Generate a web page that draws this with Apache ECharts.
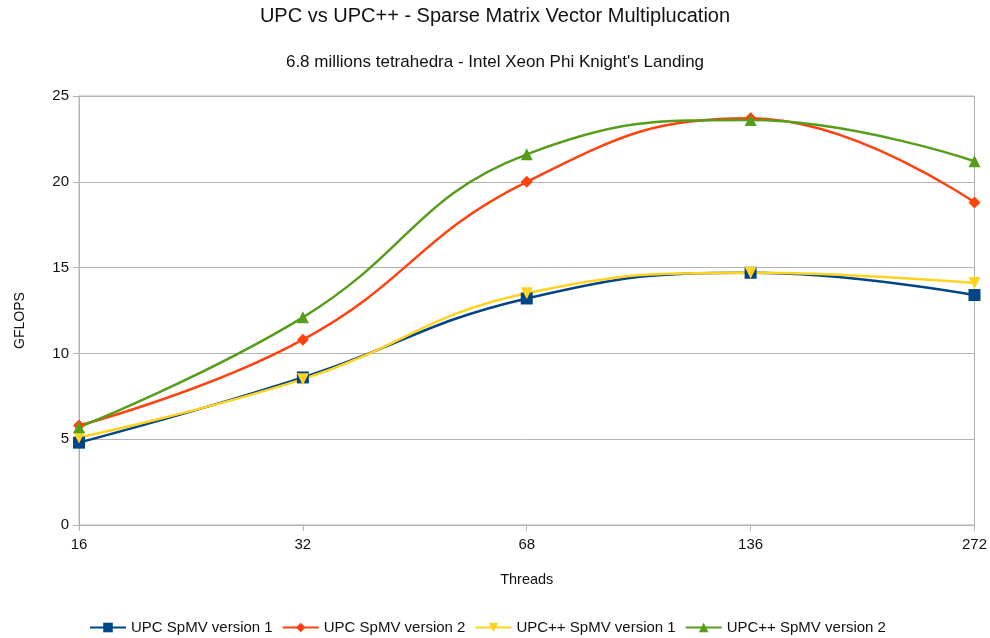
<!DOCTYPE html>
<html>
<head>
<meta charset="utf-8">
<script src="https://cdn.jsdelivr.net/npm/echarts@6/dist/echarts.min.js"></script>
<style>
  html, body { margin: 0; padding: 0; background: #fff; }
  #chart { width: 990px; height: 638px; }
</style>
</head>
<body>
<div id="chart"></div>
<script>
var threads = ['16', '32', '68', '136', '272'];
var upcV1 = [4.8, 8.6, 13.2, 14.7, 13.4];
var upcV2 = [5.8, 10.8, 20.0, 23.7, 18.8];
var upcppV1 = [5.1, 8.5, 13.5, 14.7, 14.1];
var upcppV2 = [5.7, 12.1, 21.6, 23.6, 21.2];

var dom = document.getElementById('chart');
var myChart = echarts.init(dom, null, { renderer: 'canvas' });

var font = 'Liberation Sans';

function line(name, data, color, symbol, rotate) {
  return {
    name: name,
    type: 'line',
    data: data,
    smooth: 0.45,
    symbol: symbol,
    symbolSize: 12,
    symbolRotate: rotate || 0,
    lineStyle: { color: color, width: 2.5 },
    itemStyle: { color: color },
    emphasis: { disabled: true }
  };
}

var option = {
  backgroundColor: '#fff',
  animation: false,
  textStyle: { fontFamily: font },
  title: [
    {
      text: 'UPC vs UPC++ - Sparse Matrix Vector Multiplucation',
      left: 'center',
      top: 1,
      textStyle: { fontSize: 20, fontWeight: 'normal', color: '#111', fontFamily: font }
    },
    {
      text: '6.8 millions tetrahedra - Intel Xeon Phi Knight\'s Landing',
      left: 'center',
      top: 49,
      textStyle: { fontSize: 17, fontWeight: 'normal', color: '#111', fontFamily: font }
    }
  ],
  legend: {
    bottom: -2,
    left: 84,
    itemWidth: 36,
    itemHeight: 12,
    itemGap: 9,
    textStyle: { fontSize: 15, color: '#111', fontFamily: font },
    data: ['UPC SpMV version 1', 'UPC SpMV version 2', 'UPC++ SpMV version 1', 'UPC++ SpMV version 2']
  },
  grid: {
    left: 79,
    right: 15,
    top: 96,
    bottom: 113,
    show: true,
    borderColor: '#b3b3b3',
    borderWidth: 1
  },
  xAxis: {
    type: 'category',
    data: threads,
    boundaryGap: false,
    name: 'Threads',
    nameLocation: 'middle',
    nameGap: 47,
    nameTextStyle: { fontSize: 14.5, color: '#111' },
    axisLine: { lineStyle: { color: '#b3b3b3' } },
    axisTick: { show: true, length: 6, lineStyle: { color: '#b3b3b3' } },
    axisLabel: { fontSize: 15, color: '#111', margin: 12 },
    splitLine: { show: false }
  },
  yAxis: {
    type: 'value',
    min: 0,
    max: 25,
    interval: 5,
    name: 'GFLOPS',
    nameLocation: 'middle',
    nameGap: 52,
    nameTextStyle: { fontSize: 14, color: '#111', padding: [0, 20, 0, 0] },
    axisLine: { show: true, lineStyle: { color: '#b3b3b3' } },
    axisTick: { show: true, length: 6, lineStyle: { color: '#b3b3b3' } },
    axisLabel: { fontSize: 15, color: '#111', margin: 10 },
    splitLine: { show: true, lineStyle: { color: '#b3b3b3' } }
  },
  series: [
    line('UPC SpMV version 1', upcV1, '#004586', 'rect'),
    line('UPC SpMV version 2', upcV2, '#ff420e', 'diamond'),
    line('UPC++ SpMV version 1', upcppV1, '#ffd320', 'triangle', 180),
    line('UPC++ SpMV version 2', upcppV2, '#579d1c', 'triangle')
  ]
};

myChart.setOption(option);
window.addEventListener('resize', myChart.resize);
</script>
</body>
</html>
